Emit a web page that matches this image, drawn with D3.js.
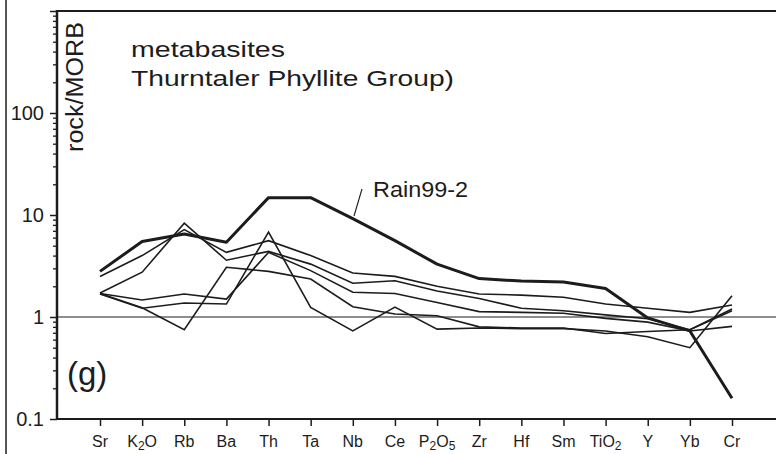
<!DOCTYPE html>
<html>
<head>
<meta charset="utf-8">
<script src="https://cdn.jsdelivr.net/npm/d3@7"></script>
<style>
  html, body { margin: 0; padding: 0; background: #fff; }
  svg { display: block; }
  text { font-family: "Liberation Sans", Arial, Helvetica, sans-serif; fill: #1c1c1c; }
</style>
</head>
<body>
<svg id="chart" width="776" height="454"></svg>
<script>
// MORB-normalised spider diagram, metabasites of the Thurntaler Phyllite Group
const categories = ["Sr", "K2O", "Rb", "Ba", "Th", "Ta", "Nb", "Ce", "P2O5", "Zr", "Hf", "Sm", "TiO2", "Y", "Yb", "Cr"];

// rock / MORB ratios per sample
const rain99_2 = [2.8, 5.5, 6.5, 5.4, 14.8, 14.8, 9.2, 5.6, 3.3, 2.38, 2.25, 2.2, 1.9, 0.98, 0.73, 0.16];
const sampleB  = [2.5, 4.0, 7.2, 4.3, 5.6, 4.0, 2.7, 2.5, 2.0, 1.68, 1.64, 1.56, 1.34, 1.22, 1.11, 1.31];
const sampleC  = [1.72, 2.75, 8.3, 3.6, 4.4, 3.3, 2.14, 2.27, 1.8, 1.52, 1.22, 1.15, 1.05, 0.96, 0.75, 1.2];
const sampleD  = [1.7, 1.47, 1.68, 1.5, 4.3, 2.85, 1.75, 1.7, 1.39, 1.13, 1.11, 1.09, 0.97, 0.89, 0.73, 0.81];
const sampleE  = [1.68, 1.22, 1.37, 1.34, 6.8, 1.24, 0.73, 1.25, 0.76, 0.78, 0.77, 0.77, 0.73, 0.64, 0.50, 1.62];
const sampleF  = [1.7, 1.23, 0.75, 3.07, 2.8, 2.36, 1.26, 1.07, 1.03, 0.8, 0.78, 0.78, 0.69, 0.72, 0.75, 1.15];

const thinSeries = [sampleB, sampleC, sampleD, sampleE, sampleF];

const yMajorTicks = [0.1, 1, 10, 100];
const yTickLabels = ["0.1", "1", "10", "100"];

// label pieces: [text, isSubscript]
const xLabelParts = {
  "K2O": [["K", false], ["2", true], ["O", false]],
  "P2O5": [["P", false], ["2", true], ["O", false], ["5", true]],
  "TiO2": [["TiO", false], ["2", true]]
};

const svg = d3.select("#chart");
const W = 776, H = 454;
const plotLeft = 57, plotTop = 11, plotBottom = 419;

const x = d3.scalePoint().domain(categories).range([100, 732]);
const y = d3.scaleLog().domain([0.1, 1000]).range([plotBottom, plotTop]);

const ink = "#1c1c1c";

// panel edge on the far left
svg.append("line").attr("x1", 6).attr("x2", 6).attr("y1", 0).attr("y2", H)
  .attr("stroke", ink).attr("stroke-width", 1.5);

// top frame line
svg.append("line").attr("x1", plotLeft).attr("x2", W).attr("y1", plotTop).attr("y2", plotTop)
  .attr("stroke", ink).attr("stroke-width", 2);

// reference line at rock/MORB = 1
svg.append("line").attr("x1", plotLeft).attr("x2", W).attr("y1", y(1)).attr("y2", y(1))
  .attr("stroke", ink).attr("stroke-width", 1.1);

// y axis: minor ticks
const minorTicks = [];
[0.1, 1, 10, 100].forEach(d => { for (let k = 2; k <= 9; k++) minorTicks.push(d * k); });
const yMinor = svg.append("g").attr("transform", `translate(${plotLeft},0)`)
  .call(d3.axisLeft(y).tickValues(minorTicks).tickSize(4).tickFormat(""));
yMinor.select(".domain").remove();
yMinor.selectAll(".tick line").attr("stroke", ink).attr("stroke-width", 1.3);

// y axis: major ticks and labels
const yMajor = svg.append("g").attr("transform", `translate(${plotLeft},0)`)
  .call(d3.axisLeft(y).tickValues(yMajorTicks.concat([1000])).tickSize(7).tickPadding(6)
    .tickFormat(d => { const i = yMajorTicks.indexOf(d); return i >= 0 ? yTickLabels[i] : ""; }));
yMajor.select(".domain").remove();
yMajor.selectAll(".tick line").attr("stroke", ink).attr("stroke-width", 1.5);
yMajor.selectAll(".tick text").attr("font-size", 20).attr("fill", ink)
  .style("font-family", "'Liberation Sans', Arial, sans-serif");

svg.append("line").attr("x1", plotLeft).attr("x2", plotLeft).attr("y1", plotTop - 1).attr("y2", plotBottom + 1)
  .attr("stroke", ink).attr("stroke-width", 2.5);

// x axis
const xAxis = svg.append("g").attr("transform", `translate(0,${plotBottom})`)
  .call(d3.axisBottom(x).tickSize(7).tickPadding(10).tickFormat(""));
xAxis.select(".domain").remove();
xAxis.selectAll(".tick line").attr("stroke", ink).attr("stroke-width", 1.5);

svg.append("line").attr("x1", plotLeft).attr("x2", W).attr("y1", plotBottom).attr("y2", plotBottom)
  .attr("stroke", ink).attr("stroke-width", 2);

const xLabels = svg.append("g");
categories.forEach(c => {
  const t = xLabels.append("text")
    .attr("x", x(c)).attr("y", 447)
    .attr("text-anchor", "middle").attr("font-size", 16);
  const parts = xLabelParts[c] || [[c, false]];
  parts.forEach(([s, sub]) => {
    const ts = t.append("tspan").text(s);
    if (sub) ts.attr("font-size", 12).attr("baseline-shift", "-22%");
  });
});

// sample lines
const line = d3.line()
  .x((d, i) => x(categories[i]))
  .y(d => y(d));

svg.append("g").selectAll("path.thin")
  .data(thinSeries).join("path")
  .attr("class", "thin")
  .attr("d", line)
  .attr("fill", "none").attr("stroke", ink)
  .attr("stroke-width", 1.6).attr("stroke-linejoin", "miter");

svg.append("path")
  .datum(rain99_2)
  .attr("d", line)
  .attr("fill", "none").attr("stroke", ink)
  .attr("stroke-width", 3).attr("stroke-linejoin", "round");

// annotation for the highlighted sample
svg.append("line").attr("x1", 362).attr("y1", 189).attr("x2", 354).attr("y2", 216)
  .attr("stroke", ink).attr("stroke-width", 1.1);
svg.append("text").attr("x", 373).attr("y", 197)
  .attr("font-size", 22).attr("textLength", 95).attr("lengthAdjust", "spacingAndGlyphs")
  .text("Rain99-2");

// titles
svg.append("text").attr("x", 131).attr("y", 57)
  .attr("font-size", 22).attr("textLength", 154).attr("lengthAdjust", "spacingAndGlyphs")
  .text("metabasites");
svg.append("text").attr("x", 131).attr("y", 86)
  .attr("font-size", 22).attr("textLength", 323).attr("lengthAdjust", "spacingAndGlyphs")
  .text("Thurntaler Phyllite Group)");

// y axis title
svg.append("text")
  .attr("transform", "translate(83,152) rotate(-90)")
  .attr("font-size", 23).attr("textLength", 130).attr("lengthAdjust", "spacingAndGlyphs")
  .text("rock/MORB");

// panel letter
svg.append("text").attr("x", 67).attr("y", 385)
  .attr("font-size", 33)
  .text("(g)");
</script>
</body>
</html>
